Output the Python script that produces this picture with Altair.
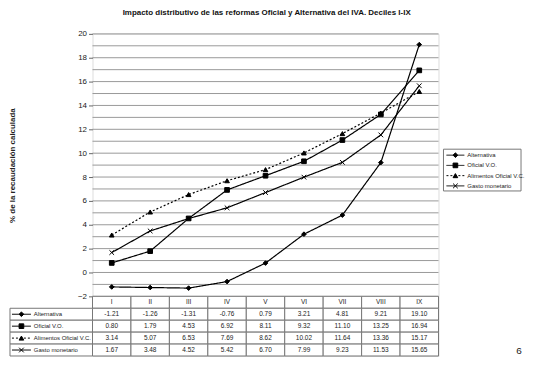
import altair as alt
import pandas as pd

deciles = ["I", "II", "III", "IV", "V", "VI", "VII", "VIII", "IX"]
series_names = ["Alternativa", "Oficial V.O.", "Alimentos Oficial V.C.", "Gasto monetario"]
alternativa = [-1.21, -1.26, -1.31, -0.76, 0.79, 3.21, 4.81, 9.21, 19.10]
oficial_vo = [0.80, 1.79, 4.53, 6.92, 8.11, 9.32, 11.10, 13.25, 16.94]
alimentos_vc = [3.14, 5.07, 6.53, 7.69, 8.62, 10.02, 11.64, 13.36, 15.17]
gasto = [1.67, 3.48, 4.52, 5.42, 6.70, 7.99, 9.23, 11.53, 15.65]
y_ticks = list(range(-2, 21))

values = {
    "Alternativa": alternativa,
    "Oficial V.O.": oficial_vo,
    "Alimentos Oficial V.C.": alimentos_vc,
    "Gasto monetario": gasto,
}

rows = []
for s in series_names:
    for d, v in zip(deciles, values[s]):
        rows.append({"decile": d, "series": s, "value": v})
df = pd.DataFrame(rows)

FONT = "Liberation Sans"
W, H = 348, 264
TH = 60

shape_scale = alt.Scale(
    domain=series_names,
    range=["diamond", "square", "triangle-up", "M-1,-1L1,1M1,-1L-1,1"],
)
fill_scale = alt.Scale(domain=series_names, range=["black", "black", "black", "transparent"])
size_scale = alt.Scale(domain=series_names, range=[22, 22, 26, 45])
dash_scale = alt.Scale(domain=series_names, range=[[1, 0], [1, 0], [2, 2], [1, 0]])
yscale = alt.Scale(domain=[-2, 20], nice=False, zero=False)

yaxis = alt.Axis(
    values=list(range(-2, 21, 2)),
    grid=False,
    domain=False,
    tickSize=4,
    tickColor="#666",
    labelFont=FONT,
    labelFontSize=8,
    labelColor="#222",
    labelPadding=2,
    title="% de la recaudación calculada",
    titleFont=FONT,
    titleFontSize=8,
    titleFontWeight="bold",
    titleColor="#222",
    titlePadding=61,
)

xpt = alt.X("decile:N", sort=deciles, scale=alt.Scale(type="point", padding=0.5), axis=None)

grid = (
    alt.Chart(pd.DataFrame({"value": y_ticks}))
    .mark_rule(color="#999", strokeWidth=1)
    .encode(y=alt.Y("value:Q", scale=yscale, axis=yaxis))
)

lines = (
    alt.Chart(df)
    .mark_line(color="black", strokeWidth=1.2)
    .encode(
        x=xpt,
        y=alt.Y("value:Q", scale=yscale, axis=yaxis),
        detail="series:N",
        strokeDash=alt.StrokeDash("series:N", scale=dash_scale, legend=None),
    )
)

points = (
    alt.Chart(df)
    .mark_point(stroke="black", strokeWidth=1, opacity=1)
    .encode(
        x=xpt,
        y=alt.Y("value:Q", scale=yscale, axis=yaxis),
        shape=alt.Shape("series:N", scale=shape_scale, legend=None),
        fill=alt.Fill("series:N", scale=fill_scale, legend=None),
        size=alt.Size("series:N", scale=size_scale, legend=None),
    )
)

# legend (drawn manually, to the right of the plot)
leg_df = pd.DataFrame({"series": series_names})
leg_df["ly"] = [122 + 10.3 * i for i in range(len(series_names))]
leg_box = alt.Chart(pd.DataFrame({"a": [0]})).mark_rect(
    fill="white", stroke="#777", strokeWidth=1
).encode(x=alt.value(353), x2=alt.value(431), y=alt.value(116), y2=alt.value(158))
leg_line = alt.Chart(leg_df).mark_rule(color="black", strokeWidth=1).encode(
    x=alt.value(356), x2=alt.value(374),
    y=alt.Y("ly:Q", scale=None),
    strokeDash=alt.StrokeDash("series:N", scale=dash_scale, legend=None),
)
leg_pt = alt.Chart(leg_df).mark_point(stroke="black", strokeWidth=1, opacity=1).encode(
    x=alt.value(365),
    y=alt.Y("ly:Q", scale=None),
    shape=alt.Shape("series:N", scale=shape_scale, legend=None),
    fill=alt.Fill("series:N", scale=fill_scale, legend=None),
    size=alt.Size("series:N", scale=size_scale, legend=None),
)
leg_txt = alt.Chart(leg_df).mark_text(
    align="left", baseline="middle", font=FONT, fontSize=6, fill="#222"
).encode(x=alt.value(377), y=alt.Y("ly:Q", scale=None), text="series:N")

plot = alt.layer(grid, lines, points, leg_box, leg_line, leg_pt, leg_txt).properties(width=W, height=H)

# data table below the plot
row_order = ["hdr"] + series_names
trows = [{"decile": d, "row": "hdr", "txt": d} for d in deciles]
for s in series_names:
    for d, v in zip(deciles, values[s]):
        trows.append({"decile": d, "row": s, "txt": f"{v:.2f}"})
tdf = pd.DataFrame(trows)

xb = alt.X("decile:N", sort=deciles, scale=alt.Scale(type="band", paddingInner=0, paddingOuter=0), axis=None)
yb = alt.Y("row:N", sort=row_order, scale=alt.Scale(domain=row_order, paddingInner=0, paddingOuter=0), axis=None)

cells = alt.Chart(tdf).mark_rect(fill="white", stroke="#777", strokeWidth=1).encode(x=xb, y=yb)
cell_txt = alt.Chart(tdf).mark_text(font=FONT, fontSize=6.5, fill="#222", baseline="middle").encode(
    x=xb, y=yb, text="txt:N"
)
hdr_df = pd.DataFrame({"row": series_names, "series": series_names})
hdr_cells = alt.Chart(hdr_df).mark_rect(fill="white", stroke="#777", strokeWidth=1).encode(
    x=alt.value(-83), x2=alt.value(0), y=yb
)
hdr_line = alt.Chart(hdr_df).mark_rule(color="black", strokeWidth=1).encode(
    x=alt.value(-81), x2=alt.value(-62), y=yb,
    strokeDash=alt.StrokeDash("series:N", scale=dash_scale, legend=None),
)
hdr_pt = alt.Chart(hdr_df).mark_point(stroke="black", strokeWidth=1, opacity=1).encode(
    x=alt.value(-71.5), y=yb,
    shape=alt.Shape("series:N", scale=shape_scale, legend=None),
    fill=alt.Fill("series:N", scale=fill_scale, legend=None),
    size=alt.Size("series:N", scale=size_scale, legend=None),
)
hdr_txt = alt.Chart(hdr_df).mark_text(
    align="left", baseline="middle", font=FONT, fontSize=6, fill="#222"
).encode(x=alt.value(-59), y=yb, text="row:N")
page_no = alt.Chart(pd.DataFrame({"p": ["6"]})).mark_text(
    font=FONT, fontSize=10, fill="#222", align="center", baseline="bottom"
).encode(x=alt.value(429), y=alt.value(TH), text="p:N")

table = alt.layer(cells, cell_txt, hdr_cells, hdr_line, hdr_pt, hdr_txt, page_no).properties(width=W, height=TH)

chart = (
    alt.vconcat(plot, table, spacing=0, bounds="flush")
    .resolve_scale(x="independent", y="independent", shape="shared", fill="shared", size="shared", strokeDash="shared")
    .properties(
        padding=0,
        title=alt.TitleParams(
            "Impacto distributivo de las reformas Oficial y Alternativa del IVA. Deciles I-IX",
            font=FONT, fontSize=8, fontWeight="bold", color="#111", anchor="middle", offset=12,
        ),
    )
    .configure_view(stroke="#777", strokeWidth=1)
    .configure(background="white")
)

chart.save("out.html", embed_options={"renderer": "svg", "actions": False})
